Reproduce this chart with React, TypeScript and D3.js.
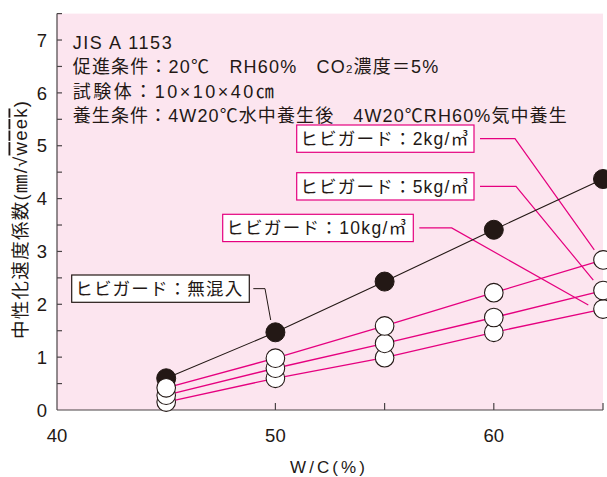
import React from "react";
import * as d3 from "d3";

// ---- data ----
const wc = [45, 50, 55, 60, 65];
const seriesNames = ["無混入", "2kg/㎥", "5kg/㎥", "10kg/㎥"];
const noneValues = [0.6, 1.47, 2.43, 3.41, 4.37];
const kg2Values = [0.42, 0.98, 1.59, 2.22, 2.84];
const kg5Values = [0.28, 0.79, 1.26, 1.75, 2.26];
const kg10Values = [0.15, 0.6, 0.99, 1.47, 1.91];
const yTickLabels = [0, 1, 2, 3, 4, 5, 6, 7];
const xTickLabels = [40, 50, 60];
const xTicks = [45, 50, 55, 60, 65];
const yMinorTicks = d3.range(0.5, 7.01, 0.5);

const noteLines = [
  "JIS A 1153",
  "促進条件：20℃　RH60%　CO",
  "試験体：10×10×40㎝",
  "養生条件：4W20℃水中養生後　4W20℃RH60%気中養生",
];

const W = 607, H = 477;
const FONT = "'Liberation Sans', 'Noto Sans CJK JP', sans-serif";
const INK = "#231815";
const MAGENTA = "#e5007f";
const PINK = "#fce5ef";

export default function App() {
  const x = d3.scaleLinear().domain([40, 65]).range([57, 603]);
  const y = d3.scaleLinear().domain([0, 7.5]).range([410, 13.6]);

  const line = d3
    .line<number>()
    .x((_, i) => x(wc[i]))
    .y((d) => y(d));

  const callouts = [
    { label: "ヒビガード：2kg/㎥", box: [296.7, 125, 177.3, 27.3], values: kg2Values, elbow: 515, end: [-8.7, -10], color: MAGENTA, tl: 168 },
    { label: "ヒビガード：5kg/㎥", box: [296.7, 172.7, 177.3, 27.3], values: kg5Values, elbow: 516, end: [-9.7, -10.5], color: MAGENTA, tl: 168 },
    { label: "ヒビガード：10kg/㎥", box: [222.7, 214.3, 190.6, 27.3], values: kg10Values, elbow: 451.7, end: [-14.7, -4], color: MAGENTA, tl: 180 },
  ];
  const noneCallout = { label: "ヒビガード：無混入", box: [71.7, 275, 177.6, 27.3], idx: 1, elbow: 265, end: [-4.7, -12.3], color: INK, tl: 167 };

  const whiteSeries = [kg10Values, kg5Values, kg2Values];

  return (
    <svg width={W} height={H} style={{ position: "absolute", left: 0, top: 0 }} fontFamily={FONT}>
      <rect x={0} y={0} width={W} height={H} fill="#fff" />
      <rect x={x(40)} y={y(7.5)} width={x(65) - x(40)} height={y(0) - y(7.5)} fill={PINK} />

      {/* axes */}
      <g stroke="#4a4446" strokeWidth={1.2} fill="none">
        <line x1={x(40)} x2={x(40)} y1={y(7.5)} y2={y(0)} />
        <line x1={x(40)} x2={x(40) + 5} y1={y(7.5)} y2={y(7.5)} />
        <line x1={x(40)} x2={x(65)} y1={y(0)} y2={y(0)} />
        {yMinorTicks.map((t) => (
          <line key={t} x1={x(40)} x2={x(40) + 5} y1={y(t)} y2={y(t)} />
        ))}
        {xTicks.map((t) => (
          <line key={t} x1={x(t)} x2={x(t)} y1={y(0)} y2={y(0) - 7} />
        ))}
      </g>
      {yTickLabels.map((t) => (
        <text key={t} x={47} y={y(t)} dy="0.36em" textAnchor="end" fontSize={18.5} fill={INK}>
          {t}
        </text>
      ))}
      {xTickLabels.map((t) => (
        <text key={t} x={x(t)} y={441.5} textAnchor="middle" fontSize={18.5} fill={INK}>
          {t}
        </text>
      ))}
      <text x={290} y={473} fontSize={17} fill={INK} textLength={75} lengthAdjust="spacing">
        W/C(%)
      </text>
      <text
        transform={`translate(26.5,220) rotate(-90)`}
        textAnchor="middle"
        fontSize={18.5}
        fill={INK}
        textLength={238}
        lengthAdjust="spacing"
      >
        中性化速度係数(㎜/√<tspan style={{ textDecoration: "overline" }}>week</tspan>)
      </text>

      {/* notes */}
      <text x={72.7} y={48.5} fontSize={18} fill={INK} textLength={99} lengthAdjust="spacing">{noteLines[0]}</text>
      <text x={72.7} y={73} fontSize={18} fill={INK} textLength={365.6} lengthAdjust="spacing">
        {noteLines[1]}
        <tspan fontSize={11.5}>2</tspan>
        <tspan>濃度＝5%</tspan>
      </text>
      <text x={72.7} y={97.5} fontSize={18} fill={INK} textLength={201} lengthAdjust="spacing">{noteLines[2]}</text>
      <text x={72.7} y={122} fontSize={18} fill={INK} textLength={494} lengthAdjust="spacing">{noteLines[3]}</text>

      {/* leader lines */}
      {callouts.map((c) => {
        const [bx, by, bw, bh] = c.box;
        const cy = by + bh / 2;
        const tx = x(wc[4]) + c.end[0];
        const ty = y(c.values[4]) + c.end[1];
        return (
          <polyline
            key={c.label}
            points={`${bx + bw + 6},${cy} ${c.elbow},${cy} ${tx},${ty}`}
            fill="none"
            stroke={c.color}
            strokeWidth={1.2}
          />
        );
      })}
      {(() => {
        const c = noneCallout;
        const [bx, by, bw, bh] = c.box;
        const cy = by + bh / 2;
        const tx = x(wc[c.idx]) + c.end[0];
        const ty = y(noneValues[c.idx]) + c.end[1];
        return (
          <polyline
            points={`${bx + bw + 4},${cy} ${c.elbow},${cy} ${tx},${ty}`}
            fill="none"
            stroke={INK}
            strokeWidth={1}
          />
        );
      })()}

      {/* series lines */}
      <path d={line(noneValues) || ""} fill="none" stroke={INK} strokeWidth={1.1} />
      {whiteSeries.map((s, i) => (
        <path key={i} d={line(s) || ""} fill="none" stroke={MAGENTA} strokeWidth={1.3} />
      ))}

      {/* markers */}
      {noneValues.map((v, i) => (
        <circle key={"n" + i} cx={x(wc[i])} cy={y(v)} r={9.5} fill={INK} stroke={INK} strokeWidth={1} />
      ))}
      {whiteSeries.map((s, si) =>
        s.map((v, i) => (
          <circle key={si + "-" + i} cx={x(wc[i])} cy={y(v)} r={9.3} fill="#fff" stroke={INK} strokeWidth={1.1} />
        ))
      )}

      {/* callout boxes */}
      {[...callouts, noneCallout].map((c) => {
        const [bx, by, bw, bh] = c.box;
        return (
          <g key={c.label}>
            <rect x={bx} y={by} width={bw} height={bh} fill="#fff" stroke={c.color} strokeWidth={1.2} />
            <text
              x={bx + 3.5}
              y={by + bh / 2}
              dy="0.36em"
              fontSize={17.5}
              fill={INK}
              textLength={c.tl}
              lengthAdjust="spacing"
            >
              {c.label}
            </text>
          </g>
        );
      })}
    </svg>
  );
}
